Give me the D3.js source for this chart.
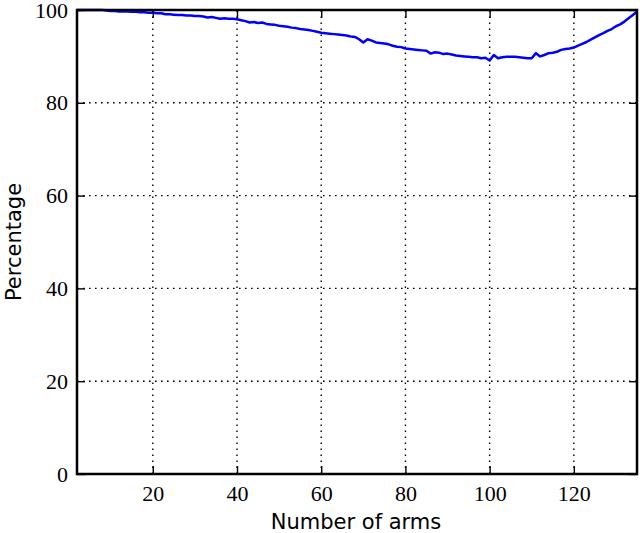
<!DOCTYPE html>
<html>
<head>
<meta charset="utf-8">
<script src="https://cdn.jsdelivr.net/npm/d3@7"></script>
<style>
  html, body { margin: 0; padding: 0; background: #fff; }
  svg { display: block; }
  .tick text { font-family: "Liberation Serif", "DejaVu Serif", serif; font-size: 22px; fill: #000; }
  .axis-label { font-family: "DejaVu Sans", "Liberation Sans", sans-serif; font-size: 21px; fill: #000; }
</style>
</head>
<body>
<svg id="chart" width="640" height="533"></svg>
<script>
// Data: percentage vs number of arms
const arms = d3.range(2, 136);
const percentage = [
  100, 100, 100, 100, 100, 100, 100, 99.9,                       // 2-9
  99.8, 99.8, 99.7, 99.7, 99.7, 99.6, 99.6, 99.5, 99.5, 99.4, 99.4, // 10-20
  99.3, 99.3, 99.1, 99.1, 99.0, 98.9, 98.9, 98.8, 98.8, 98.7,     // 21-30
  98.7, 98.6, 98.4, 98.5, 98.3, 98.1, 98.2, 98.1, 98.1, 98.0,     // 31-40
  97.8, 97.6, 97.3, 97.4, 97.2, 97.3, 97.0, 96.9, 96.8, 96.6,     // 41-50
  96.5, 96.4, 96.2, 96.1, 95.9, 95.8, 95.7, 95.5, 95.3, 95.1,     // 51-60
  95.0, 94.9, 94.8, 94.7, 94.6, 94.5, 94.3, 94.2, 93.7, 93.0,     // 61-70
  93.7, 93.4, 93.0, 92.9, 92.8, 92.6, 92.3, 92.1, 92.0, 91.7,     // 71-80
  91.6, 91.5, 91.4, 91.3, 91.2, 90.6, 90.9, 90.8, 90.5, 90.6,     // 81-90
  90.4, 90.2, 90.1, 90.0, 89.9, 89.8, 89.8, 89.6, 89.7, 89.1,     // 91-100
  90.3, 89.6, 89.8, 89.9, 89.9, 89.9, 89.8, 89.7, 89.6, 89.6,     // 101-110
  90.7, 90.0, 90.3, 90.7, 90.8, 91.0, 91.4, 91.6, 91.7, 91.9,     // 111-120
  92.3, 92.7, 93.1, 93.6, 94.1, 94.6, 95.0, 95.5, 95.9, 96.5,     // 121-130
  96.9, 97.5, 98.2, 98.9, 99.6                                    // 131-135
];
const xTicks = [20, 40, 60, 80, 100, 120];
const yTicks = [0, 20, 40, 60, 80, 100];
const xLabel = "Number of arms";
const yLabel = "Percentage";

const margin = { left: 77, right: 3, top: 10, bottom: 59 };
const W = 640, H = 533;
const svg = d3.select("#chart");
const iw = W - margin.left - margin.right;
const ih = H - margin.top - margin.bottom;

const x = d3.scaleLinear().domain([2, 135]).range([margin.left, margin.left + iw]);
const y = d3.scaleLinear().domain([0, 100]).range([margin.top + ih, margin.top]);

// grid
const grid = svg.append("g");
grid.selectAll("line.gx").data(xTicks).join("line")
  .attr("x1", d => x(d)).attr("x2", d => x(d))
  .attr("y1", y(0)).attr("y2", y(100))
  .attr("stroke", "#000").attr("stroke-width", 1.4).attr("stroke-dasharray", "1.6,4.4");
grid.selectAll("line.gy").data(yTicks.filter(d => d > 0 && d < 100)).join("line")
  .attr("y1", d => y(d)).attr("y2", d => y(d))
  .attr("x1", x(2)).attr("x2", x(135))
  .attr("stroke", "#000").attr("stroke-width", 1.4).attr("stroke-dasharray", "1.6,4.4");

// line
const line = d3.line().x((d, i) => x(arms[i])).y(d => y(d));
svg.append("path").datum(percentage)
  .attr("d", line).attr("fill", "none")
  .attr("stroke", "#0000ff").attr("stroke-width", 2.5)
  .attr("stroke-linejoin", "round");

// axes (inward ticks, mirrored)
const tl = 8;
svg.append("g").attr("transform", `translate(0,${y(0)})`)
  .call(d3.axisBottom(x).tickValues(xTicks).tickSize(-tl).tickPadding(11).tickFormat(d3.format("d")))
  .call(g => g.select(".domain").remove())
  .call(g => g.selectAll(".tick line").attr("stroke-width", 1.4));
svg.append("g").attr("transform", `translate(0,${y(100)})`)
  .call(d3.axisTop(x).tickValues(xTicks).tickSize(-tl).tickFormat(""))
  .call(g => g.select(".domain").remove())
  .call(g => g.selectAll(".tick line").attr("stroke-width", 1.4));
svg.append("g").attr("transform", `translate(${x(2)},0)`)
  .call(d3.axisLeft(y).tickValues(yTicks).tickSize(-tl).tickPadding(9).tickFormat(d3.format("d")))
  .call(g => g.select(".domain").remove())
  .call(g => g.selectAll(".tick line").attr("stroke-width", 1.4));
svg.append("g").attr("transform", `translate(${x(135)},0)`)
  .call(d3.axisRight(y).tickValues(yTicks).tickSize(-tl).tickFormat(""))
  .call(g => g.select(".domain").remove())
  .call(g => g.selectAll(".tick line").attr("stroke-width", 1.4));

// frame
svg.append("rect")
  .attr("x", x(2)).attr("y", y(100))
  .attr("width", x(135) - x(2)).attr("height", y(0) - y(100))
  .attr("fill", "none").attr("stroke", "#000").attr("stroke-width", 2.5);

// labels
svg.append("text").attr("class", "axis-label")
  .attr("x", (x(2) + x(135)) / 2 - 1).attr("y", 529)
  .attr("text-anchor", "middle").text(xLabel);
svg.append("text").attr("class", "axis-label")
  .attr("transform", `translate(21,${(y(0) + y(100)) / 2}) rotate(-90)`)
  .attr("text-anchor", "middle").text(yLabel);
</script>
</body>
</html>
